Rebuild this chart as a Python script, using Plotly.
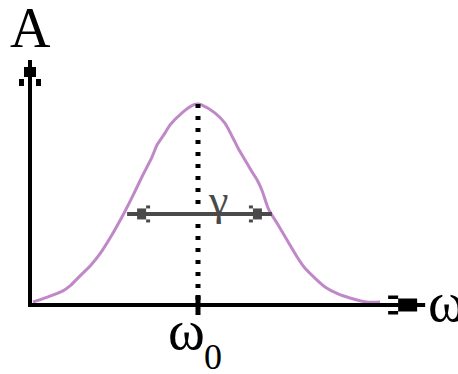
import plotly.graph_objects as go

# Line profile: frequency ω (ω0 = 5) and amplitude A (peak = 1)
omega = [0.09, 0.45, 0.98, 1.19, 1.49, 1.79, 2.08, 2.40, 2.80, 3.07, 3.36, 3.63,
         3.78, 4.02, 4.17, 4.55, 4.85, 5.00, 5.12, 5.51, 5.80, 6.04, 6.19, 6.40,
         6.61, 6.76, 6.90, 7.11, 7.35, 7.65, 7.95, 8.18, 8.48, 8.78, 9.17, 9.52,
         10.01, 10.42]
amplitude = [0.015, 0.035, 0.070, 0.095, 0.145, 0.194, 0.254, 0.338, 0.458, 0.547,
             0.647, 0.736, 0.796, 0.856, 0.896, 0.960, 0.995, 1.000, 0.995, 0.955,
             0.905, 0.831, 0.781, 0.721, 0.662, 0.622, 0.572, 0.473, 0.408, 0.323,
             0.239, 0.184, 0.134, 0.090, 0.055, 0.035, 0.015, 0.015]

omega0 = 5.0
peak = 1.0
gamma_level = 0.453
gamma_ends = [2.89, 7.20]

# axis extents (ω, A)
x_axis_end = 11.76
y_axis_end = 1.219

W, H = 458, 374
KX, KY = 33.6, 201.0          # pixels per unit
OX, OY = 30, 305              # origin in pixels
x_range = [-OX / KX, (W - OX) / KX]
y_range = [-(H - OY) / KY, OY / KY]

CURVE = "#c088c8"
DARK = "#4a4a4a"
BLACK = "#000000"

fig = go.Figure()
fig.add_trace(go.Scatter(x=omega, y=amplitude, mode="lines",
                         line=dict(color=CURVE, width=3, shape="spline", smoothing=0.8),
                         hoverinfo="skip", showlegend=False))

shapes = []


def seg(x0, y0, x1, y1, color, width, dash=None):
    shapes.append(dict(type="line", x0=x0, y0=y0, x1=x1, y1=y1, xref="x", yref="y",
                       line=dict(color=color, width=width, dash=dash)))


def px_rect(ax, ay, x0, x1, y0, y1, color):
    shapes.append(dict(type="rect", xref="x", yref="y",
                       xsizemode="pixel", ysizemode="pixel",
                       xanchor=ax, yanchor=ay, x0=x0, x1=x1, y0=y0, y1=y1,
                       fillcolor=color, line=dict(width=0)))


def head(ax, ay, dx, dy, blk, half, barb, b_in, b_out, color):
    """Blocky arrowhead with tip at (ax, ay) pointing along (dx, dy)."""
    u0, u1 = blk
    w0, w1 = barb
    if dx:
        px_rect(ax, ay, -dx * u0, -dx * u1, -half, half, color)
        px_rect(ax, ay, -dx * w0, -dx * w1, b_in, b_out, color)
        px_rect(ax, ay, -dx * w0, -dx * w1, -b_in, -b_out, color)
    else:
        px_rect(ax, ay, -half, half, -dy * u0, -dy * u1, color)
        px_rect(ax, ay, b_in, b_out, -dy * w0, -dy * w1, color)
        px_rect(ax, ay, -b_in, -b_out, -dy * w0, -dy * w1, color)


# axes
seg(-2 / KX, 0, x_axis_end, 0, BLACK, 4)
seg(0, -2 / KY, 0, y_axis_end, BLACK, 4)
head(x_axis_end, 0, 1, 0, (8, 27), 6.5, (27, 37), 6, 9.5, BLACK)
head(0, y_axis_end, 0, 1, (7, 17), 6, (19, 26), 6, 11, BLACK)

# centre line and tick at ω0
seg(omega0, peak, omega0, 0, BLACK, 5, dash="4px,8px")
shapes.append(dict(type="line", xref="x", yref="y", ysizemode="pixel",
                   xanchor=omega0, yanchor=0, x0=omega0, x1=omega0, y0=10, y1=-10,
                   line=dict(color=BLACK, width=5)))

# width marker
seg(gamma_ends[0], gamma_level, gamma_ends[1], gamma_level, DARK, 4)
head(gamma_ends[0], gamma_level, -1, 0, (10, 19), 5.5, (19, 23), 5.5, 8.5, DARK)
head(gamma_ends[1], gamma_level, 1, 0, (10, 19), 5.5, (19, 23), 5.5, 8.5, DARK)

SERIF = "Liberation Serif"
ann = [
    dict(text="A", x=30 / W, y=1 - 28 / H, size=56, h=44, color=BLACK),
    dict(text="ω", x=446 / W, y=1 - 302 / H, size=56, h=40, color=BLACK),
    dict(text="ω", x=186 / W, y=1 - 330 / H, size=56, h=40, color=BLACK),
    dict(text="0", x=213 / W, y=1 - 357 / H, size=36, h=28, color=BLACK),
    dict(text="γ", x=218 / W, y=1 - 200 / H, size=44, h=48, color=DARK),
]
annotations = [dict(text=a["text"], x=a["x"], y=a["y"], xref="paper", yref="paper",
                    xanchor="center", yanchor="middle", showarrow=False,
                    height=a["h"], valign="middle",
                    font=dict(family=SERIF, size=a["size"], color=a["color"]))
               for a in ann]

fig.update_layout(
    width=W, height=H, autosize=False,
    margin=dict(l=0, r=0, t=0, b=0, pad=0),
    paper_bgcolor="white", plot_bgcolor="white",
    xaxis=dict(range=x_range, visible=False, fixedrange=True),
    yaxis=dict(range=y_range, visible=False, fixedrange=True),
    shapes=shapes, annotations=annotations, showlegend=False,
)

fig.write_html("out.html")
